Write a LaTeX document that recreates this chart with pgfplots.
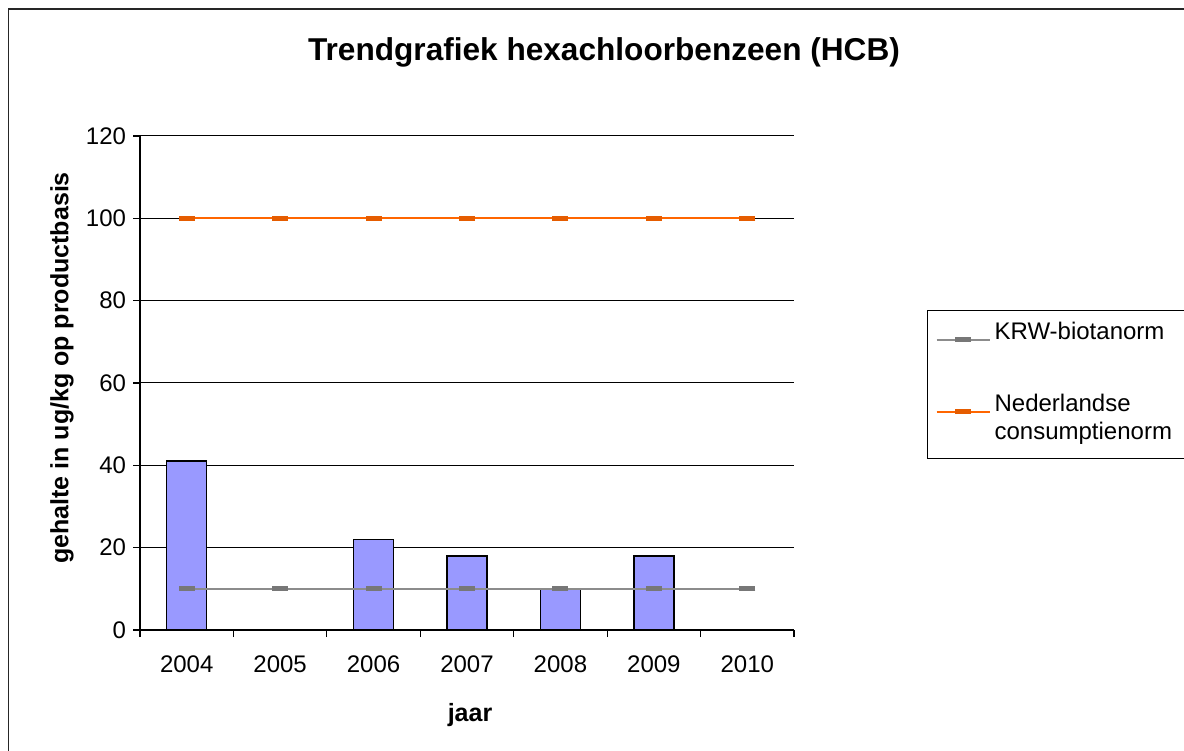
\documentclass[border=0pt]{standalone}
\usepackage{pgfplots}
\pgfplotsset{compat=1.18}
\usepackage{fontspec}
\setmainfont{Liberation Sans}
\definecolor{barblue}{HTML}{9999FF}
\definecolor{krwgray}{HTML}{8C8C8C}
\definecolor{nlorange}{HTML}{FF6600}

\begin{document}
\begin{tikzpicture}
\path[use as bounding box] (0bp,0bp) rectangle (592bp,375.5bp);
\draw[line width=0.8bp, black!85] (4.25bp,-10bp) rectangle (620bp,371bp);
\node[font=\bfseries\fontsize{15.8bp}{18bp}\selectfont] at (302bp,349.5bp) {Trendgrafiek hexachloorbenzeen (HCB)};
\node[font=\bfseries\fontsize{12.5bp}{15bp}\selectfont, rotate=90] at (31bp,191.5bp) {gehalte in ug/kg op productbasis};
\node[font=\bfseries\fontsize{12.5bp}{15bp}\selectfont] at (235bp,18bp) {jaar};
\begin{axis}[
  at={(70bp,60.5bp)}, anchor=south west,
  scale only axis, width=327bp, height=247bp,
  xmin=-0.5, xmax=6.5, ymin=0, ymax=120,
  axis x line*=bottom, axis y line*=left,
  axis line style={black, line width=0.6bp},
  ytick={0,20,...,120},
  ymajorgrids, grid style={black, line width=0.5bp},
  xtick={0,...,6}, xticklabels={2004,2005,2006,2007,2008,2009,2010},
  minor xtick={-0.5,0.5,...,6.5},
  major x tick style={draw=none},
  minor x tick style={black, line width=0.6bp},
  major y tick style={black, line width=0.6bp},
  tick align=outside, major tick length=3.5bp, minor tick length=3.5bp,
  ticklabel style={font=\fontsize{12bp}{14bp}\selectfont},
  xticklabel style={yshift=-6bp},
  /pgf/number format/assume math mode=true,
  legend style={at={(1.2034,0.6478)}, anchor=north west, draw=black,
    line width=0.6bp, font=\fontsize{12bp}{14bp}\selectfont,
    row sep=20.5bp, inner xsep=4bp, inner ysep=4bp,
    nodes={anchor=base west}},
  legend cell align=left,
  legend image code/.code={\draw[mark repeat=2,mark phase=2,#1] plot coordinates {(0bp,0bp) (13.25bp,0bp) (26.5bp,0bp)};},
]
\addplot[ybar, bar width=20bp, fill=barblue, draw=black, line width=0.75bp, forget plot]
  coordinates {(0,41) (2,22) (3,18) (4,10) (5,18)};
\addplot[krwgray, line width=1bp, mark=-, mark size=4bp,
  mark options={line width=2.5bp, draw=krwgray!85!black}]
  coordinates {(0,10) (1,10) (2,10) (3,10) (4,10) (5,10) (6,10)};
\addlegendentry{KRW-biotanorm\hspace*{30bp}}
\addplot[nlorange, line width=1bp, mark=-, mark size=4bp,
  mark options={line width=2.5bp, draw=nlorange!90!black}]
  coordinates {(0,100) (1,100) (2,100) (3,100) (4,100) (5,100) (6,100)};
\addlegendentry[text depth=17.5bp]{\begin{tabular}[t]{@{}l@{}}Nederlandse\\consumptienorm\end{tabular}}
\end{axis}
\end{tikzpicture}
\end{document}
